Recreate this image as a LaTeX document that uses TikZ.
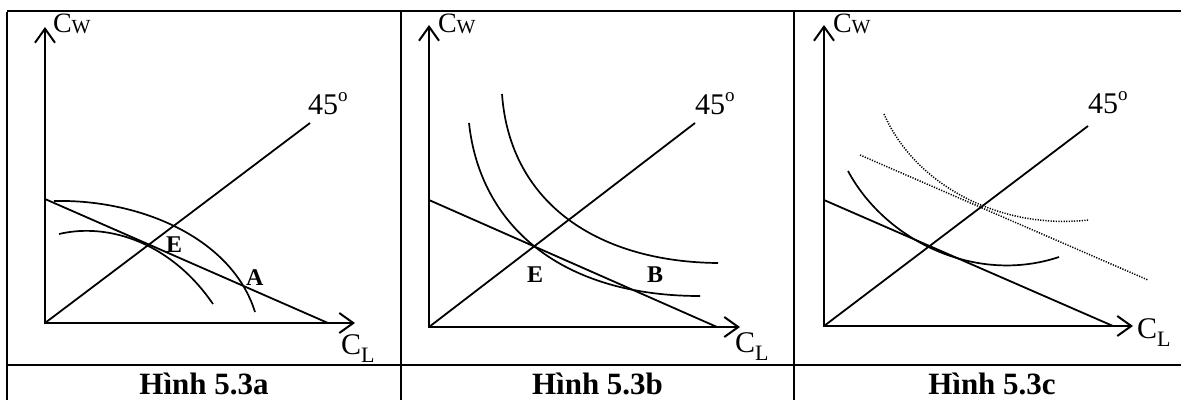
\documentclass[tikz,border=0pt]{standalone}
\usepackage{fontspec}
\setmainfont{Liberation Serif}
\usetikzlibrary{arrows.meta}
\newcommand{\cwtext}{{\fontsize{28}{28}\selectfont C}\raisebox{-1pt}{\fontsize{20}{20}\selectfont W}}
\newcommand{\cltext}{{\fontsize{30}{30}\selectfont C}\raisebox{-8pt}{\fontsize{22}{22}\selectfont L}}
\newcommand{\degtext}{{\fontsize{30}{30}\selectfont 45}\raisebox{13pt}{\fontsize{19}{19}\selectfont o}}
\begin{document}
\begin{tikzpicture}[x=1pt,y=-1pt,
  frame/.style={line width=2pt},
  axis/.style={line width=2pt, line join=miter,
    {Straight Barb[length=14pt,width=20pt]}-{Straight Barb[length=14pt,width=20pt]}},
  ray/.style={line width=1.8pt},
  curve/.style={line width=1.7pt},
  dots/.style={line width=1.5pt, dash pattern=on 1.2pt off 1.4pt},
  lbl/.style={inner sep=0pt, outer sep=0pt, anchor=base west},
  pt/.style={lbl, font=\fontsize{24}{24}\selectfont\bfseries},
  title/.style={inner sep=0pt, anchor=base, font=\fontsize{31}{31}\selectfont\bfseries}]
\useasboundingbox (0,0) rectangle (1181,400);
% table frame
\coordinate (tl) at (7,11);
\coordinate (tr) at (1181,11);
\coordinate (ml) at (7,364.5);
\coordinate (mr) at (1181,364.5);
\coordinate (bl) at (7,400);
\coordinate (s1t) at (401,11);
\coordinate (s1b) at (401,400);
\coordinate (s2t) at (794,11);
\coordinate (s2b) at (794,400);
\draw[frame] (tl) -- (tr);
\draw[frame] (ml) -- (mr);
\draw[frame] ([yshift=-1pt]tl) -- (bl);
\draw[frame] ([yshift=-1pt]s1t) -- (s1b);
\draw[frame] ([yshift=-1pt]s2t) -- (s2b);

% ---------- panel a ----------
\coordinate (oa) at (45,323);
\coordinate (ya) at (45,27);
\coordinate (xa) at (355,323);
\coordinate (ra) at (310,123);
\coordinate (ba1) at (45,199);
\coordinate (ba2) at (328,323);
\draw[axis] (ya) -- (oa) -- (xa);
\draw[ray] (oa) -- (ra);
\draw[ray] (ba1) -- (ba2);
\coordinate (pa1) at (54,201);
\coordinate (pa2) at (255,312);
\draw[curve] (pa1) .. controls (140,199) and (232,238) .. (pa2);
\coordinate (qa1) at (59,234);
\coordinate (qa2) at (213,304);
\draw[curve] (qa1) .. controls (110,222) and (172,244) .. (qa2);
\node[lbl] (cwa) at (53,32) {\cwtext};
\node[lbl] (dga) at (308,114) {\degtext};
\node[lbl] (cla) at (341,354) {\cltext};
\node[pt] (ea) at (166,252) {E};
\node[pt] (aa) at (246,285) {A};
\node[title] (ta) at (204,394) {Hình 5.3a};

% ---------- panel b ----------
\coordinate (ob) at (429,327);
\coordinate (yb) at (429,25);
\coordinate (xb) at (740,327);
\coordinate (rb) at (695,123);
\coordinate (bb1) at (429,200);
\coordinate (bb2) at (717,327);
\draw[axis] (yb) -- (ob) -- (xb);
\draw[ray] (ob) -- (rb);
\draw[ray] (bb1) -- (bb2);
\coordinate (ib1) at (469,123);
\coordinate (ib2) at (700,296);
\draw[curve] (ib1) .. controls (480,225) and (560,296) .. (ib2);
\coordinate (jb1) at (502,94);
\coordinate (jb2) at (718,263);
\draw[curve] (jb1) .. controls (510,205) and (600,262) .. (jb2);
\node[lbl] (cwb) at (438,32) {\cwtext};
\node[lbl] (dgb) at (695,114) {\degtext};
\node[lbl] (clb) at (735,352) {\cltext};
\node[pt] (eb) at (527,282) {E};
\node[pt] (bbl) at (647,282) {B};
\node[title] (tb) at (597.5,394) {Hình 5.3b};

% ---------- panel c ----------
\coordinate (oc) at (824,326);
\coordinate (yc) at (824,25);
\coordinate (xc) at (1133,326);
\coordinate (rc) at (1088,126);
\coordinate (bc1) at (824,200);
\coordinate (bc2) at (1113,326);
\draw[axis] (yc) -- (oc) -- (xc);
\draw[ray] (oc) -- (rc);
\draw[ray] (bc1) -- (bc2);
\coordinate (sc1) at (848,171);
\coordinate (sc2) at (1059,257);
\draw[curve] (sc1) .. controls (885,240) and (975,285) .. (sc2);
\coordinate (dc1) at (860,155);
\coordinate (dc2) at (1148,280);
\draw[dots] (dc1) -- (dc2);
\coordinate (uc1) at (884,114);
\coordinate (uc2) at (1088,220);
\draw[dots] (uc1) .. controls (915,185) and (1000,230) .. (uc2);
\node[lbl] (cwc) at (833,32) {\cwtext};
\node[lbl] (dgc) at (1088,113) {\degtext};
\node[lbl] (clc) at (1137,338) {\cltext};
\node[title] (tc) at (992,394) {Hình 5.3c};
\end{tikzpicture}
\end{document}
